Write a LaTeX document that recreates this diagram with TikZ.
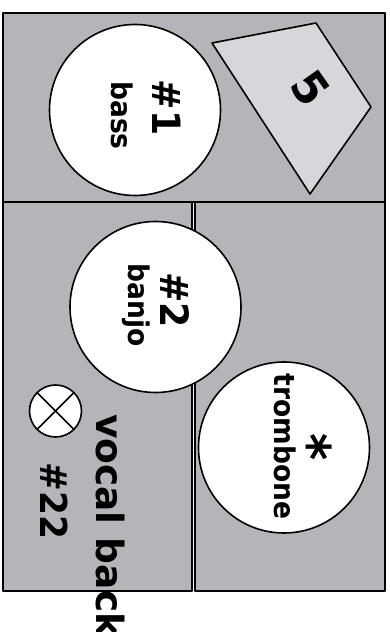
\documentclass[tikz,border=0pt]{standalone}
\usepackage{fontspec}
\newfontfamily\plotfont[FakeStretch=0.93]{DejaVu Sans Bold}
\newfontfamily\wedgefont{DejaVu Sans Bold}
\definecolor{stagegray}{RGB}{180,181,184}
\definecolor{riserlight}{RGB}{214,215,218}

\begin{document}
\begin{tikzpicture}[line cap=round,line join=round,x=1pt,y=1pt,
  zone/.style={draw=black,fill=stagegray,line width=2pt},
  player/.style={circle,draw=black,fill=white,line width=1.6pt,minimum size=171pt,inner sep=0pt,outer sep=0pt},
  tag/.style={rotate=-90,anchor=base,inner sep=0pt}]
\useasboundingbox (0,0) rectangle (390,632);
\clip (0,0) rectangle (390,632);

% stage zones
\draw[zone] (3,619) rectangle (385,430);
\draw[zone] (3,430) rectangle (192,41);
\draw[zone] (195,430) rectangle (385,41);

% riser
\draw[black,line width=1.6pt,fill=riserlight] (212,589) -- (316,609) -- (371,525) -- (310,438) -- cycle;

\node[player] (bass) at (135,522) {};
\node[player] (banjo) at (155.5,325) {};
\node[player] (trombone) at (284,184.5) {};

\node[circle,draw=black,fill=white,line width=1.6pt,minimum size=52pt,inner sep=0pt,outer sep=0pt] (wedge) at (55.5,221) {};
\draw[line width=1.6pt] (wedge.north west) -- (wedge.south east);
\draw[line width=1.6pt] (wedge.north east) -- (wedge.south west);

\node[tag,anchor=center,rotate=35] (riserno) at (311,544) {\plotfont\fontsize{46}{46}\selectfont 5};

\node[tag] (bassno) at (152,524.5) {\plotfont\fontsize{39}{39}\selectfont\#1};
\node[tag] (basstxt) at (111,516.5) {\plotfont\fontsize{28.5}{28.5}\selectfont bass};

\node[tag] (banjono) at (160,332) {\plotfont\fontsize{39}{39}\selectfont\#2};
\node[tag] (banjotxt) at (128,327) {\plotfont\fontsize{28.5}{28.5}\selectfont banjo};

\node[tag] (tbnmark) at (290,185) {\plotfont\fontsize{56}{56}\selectfont *};
\node[tag] (tbntxt) at (274,185.5) {\plotfont\fontsize{28.5}{28.5}\selectfont trombone};

\node[tag] (wedgeno) at (40,131) {\plotfont\fontsize{37}{37}\selectfont\#22};
\node[tag,anchor=base west] (wedgetxt) at (96,218) {\wedgefont\fontsize{37.5}{37.5}\selectfont vocal back};
\end{tikzpicture}
\end{document}
